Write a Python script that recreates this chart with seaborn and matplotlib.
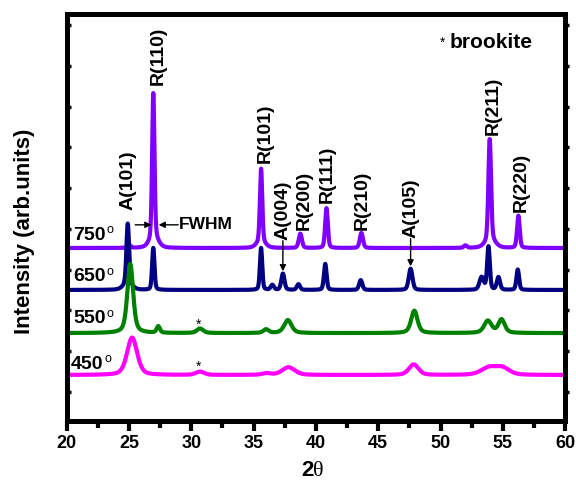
import numpy as np
import pandas as pd
import matplotlib
matplotlib.use("Agg")
import matplotlib.pyplot as plt
from matplotlib.ticker import MultipleLocator, FixedLocator
import seaborn as sns

# ---- XRD peak tables (2θ centre, height, FWHM) per annealing temperature ----
temps = ["750", "650", "550", "450"]
offsets = [42.5, 32.2, 21.6, 11.3]
colors = ["#8000FF", "#000080", "#008000", "#FF00FF"]
lorentz_frac = [0.3, 0.3, 0.5, 0.4]

pos_750 = [25.0, 26.95, 27.0, 35.6, 35.6, 38.75, 40.85, 43.65, 52.0, 53.95, 54.0, 56.25]
hgt_750 = [0.8, 35.6, 2.5, 18.0, 1.5, 3.5, 9.8, 3.7, 0.6, 24.8, 2.0, 7.9]
wid_750 = [0.3, 0.22, 0.8, 0.22, 0.8, 0.3, 0.25, 0.3, 0.3, 0.25, 0.9, 0.25]

pos_650 = [24.9, 24.9, 26.95, 35.6, 36.5, 37.35, 38.6, 40.75, 43.6, 47.6, 53.3, 53.85, 54.65, 56.2]
hgt_650 = [14.8, 1.5, 10.3, 10.3, 1.2, 4.0, 1.4, 6.4, 2.4, 5.2, 3.1, 10.6, 3.1, 5.0]
wid_650 = [0.25, 0.8, 0.22, 0.22, 0.3, 0.3, 0.3, 0.25, 0.3, 0.35, 0.4, 0.25, 0.3, 0.25]

pos_550 = [25.1, 27.35, 30.7, 36.0, 37.75, 47.9, 53.8, 54.9]
hgt_550 = [17.0, 1.6, 1.1, 0.9, 3.2, 5.5, 3.0, 3.3]
wid_550 = [0.55, 0.3, 0.6, 0.5, 0.7, 0.6, 0.7, 0.6]

pos_450 = [25.25, 30.7, 36.0, 37.8, 47.85, 53.9, 55.0]
hgt_450 = [9.2, 0.8, 0.4, 1.9, 2.6, 1.8, 1.6]
wid_450 = [0.95, 0.8, 0.8, 1.2, 0.9, 1.5, 1.3]

peak_tables = [
    (pos_750, hgt_750, wid_750),
    (pos_650, hgt_650, wid_650),
    (pos_550, hgt_550, wid_550),
    (pos_450, hgt_450, wid_450),
]

# phase labels
peak_labels = ["A(101)", "R(110)", "R(101)", "A(004)", "R(200)",
               "R(111)", "R(210)", "A(105)", "R(211)", "R(220)"]
label_x = [24.92, 27.33, 35.9, 37.4, 39.1, 40.9, 43.7, 47.6, 54.2, 56.5]
label_y = [51.8, 82.6, 63.4, 44.5, 46.9, 53.6, 46.9, 45.0, 70.3, 51.4]

xticks = [20, 25, 30, 35, 40, 45, 50, 55, 60]


def pseudo_voigt(x, centres, heights, widths, eta):
    y = np.zeros_like(x)
    for c, h, w in zip(centres, heights, widths):
        d = (x - c) / w
        g = np.exp(-4 * np.log(2) * d ** 2)
        l = 1.0 / (1.0 + 4 * d ** 2)
        y += h * (eta * l + (1 - eta) * g)
    return y


two_theta = np.linspace(20, 60, 4001)
frames = []
for t, off, eta, (p, h, w) in zip(temps, offsets, lorentz_frac, peak_tables):
    frames.append(pd.DataFrame({
        "two_theta": two_theta,
        "intensity": off + pseudo_voigt(two_theta, p, h, w, eta),
        "sample": t,
    }))
df = pd.concat(frames, ignore_index=True)

# ---- styling ----
sns.set_style("ticks")
plt.rcParams["font.family"] = ["Liberation Sans", "DejaVu Sans"]
plt.rcParams["font.weight"] = "bold"
for key in ["text.color", "axes.labelcolor", "xtick.color", "ytick.color", "axes.edgecolor"]:
    plt.rcParams[key] = "black"

fig = plt.figure(figsize=(5.76, 4.86), dpi=100)
ax = fig.add_axes([66.7 / 576, 1 - 421 / 486, 498.4 / 576, 407 / 486])

sns.lineplot(data=df, x="two_theta", y="intensity", hue="sample",
             hue_order=temps, palette=colors, estimator=None, sort=False,
             linewidth=3.0, legend=False, ax=ax)

ax.set_xlim(20, 60)
ax.set_ylim(0, 100)
ax.set_xlabel("")
ax.set_ylabel("")

for s in ax.spines.values():
    s.set_visible(True)
    s.set_linewidth(3.6)
    s.set_color("black")

ax.xaxis.set_major_locator(FixedLocator(xticks))
ax.xaxis.set_minor_locator(MultipleLocator(2.5))
ax.set_xticklabels([str(v) for v in xticks])
ax.tick_params(axis="x", which="major", direction="out", length=7, width=3,
               labelsize=13, pad=3, top=False, colors="black")
ax.tick_params(axis="x", which="minor", direction="out", length=5, width=3,
               top=False, colors="black")
for lab in ax.get_xticklabels():
    lab.set_fontweight("bold")

ax.yaxis.set_major_locator(FixedLocator(np.arange(7.2, 100, 10)))
ax.tick_params(axis="y", which="major", direction="in", length=3, width=2.5,
               left=True, right=False, labelleft=False, colors="black")
ax2 = ax.twinx()
ax2.set_ylim(ax.get_ylim())
ax2.yaxis.set_major_locator(FixedLocator(np.arange(7.2, 100, 10)))
ax2.tick_params(axis="y", direction="out", length=3, width=2.5,
                labelright=False, colors="black")
for s in ax2.spines.values():
    s.set_visible(False)

# phase labels
for txt, x, y in zip(peak_labels, label_x, label_y):
    ax.text(x, y, txt, rotation=90, ha="center", va="bottom",
            fontsize=14, fontweight="bold")

# arrows down to the anatase reflections of the 650 trace
arrow_kw = dict(arrowstyle="-|>", color="black", lw=1.0, mutation_scale=9,
                shrinkA=0, shrinkB=0)
ax.annotate("", xy=(37.35, offsets[1] + 4.6), xytext=(37.35, 44.3), arrowprops=arrow_kw)
ax.annotate("", xy=(47.6, offsets[1] + 5.8), xytext=(47.6, 44.8), arrowprops=arrow_kw)

# FWHM marker on the rutile (110) reflection
ax.annotate("", xy=(26.8, 48.2), xytext=(25.5, 48.2), arrowprops=arrow_kw)
ax.annotate("", xy=(27.38, 48.2), xytext=(28.95, 48.2), arrowprops=arrow_kw)
ax.text(29.0, 48.2, "FWHM", ha="left", va="center", fontsize=12.5, fontweight="bold")

# temperature tags
tag_x = [20.5, 20.5, 20.5, 20.3]
tag_y = [45.7, 35.4, 25.1, 14.0]
for t, x, y in zip(temps, tag_x, tag_y):
    num = ax.text(x, y, t, ha="left", va="center", fontsize=14, fontweight="bold")
    ax.annotate("o", xy=(1, 0.42), xycoords=num, xytext=(1, 0),
                textcoords="offset points", ha="left", va="bottom",
                fontsize=9, fontweight="normal")

# brookite markers
ax.text(30.55, 23.6, "*", ha="center", va="center", fontsize=10, fontweight="normal")
ax.text(30.55, 13.3, "*", ha="center", va="center", fontsize=10, fontweight="normal")
ax.text(50.15, 93.0, "*", ha="center", va="center", fontsize=10, fontweight="normal")
ax.text(50.7, 93.1, "brookite", ha="left", va="center", fontsize=15, fontweight="bold")

# axis titles
fig.text(25 / 576, 1 - 231 / 486, "Intensity (arb.units)", rotation=90,
         ha="center", va="center", fontsize=16, fontweight="bold")
two = fig.text(307 / 576, 1 - 470 / 486, "2", ha="center", va="center",
               fontsize=16, fontweight="bold")
ax.annotate("θ", xy=(1, 0), xycoords=two, ha="left", va="bottom",
            fontsize=16, fontweight="normal", family=["Liberation Serif", "DejaVu Serif"])

fig.savefig("out.png", dpi=100)
